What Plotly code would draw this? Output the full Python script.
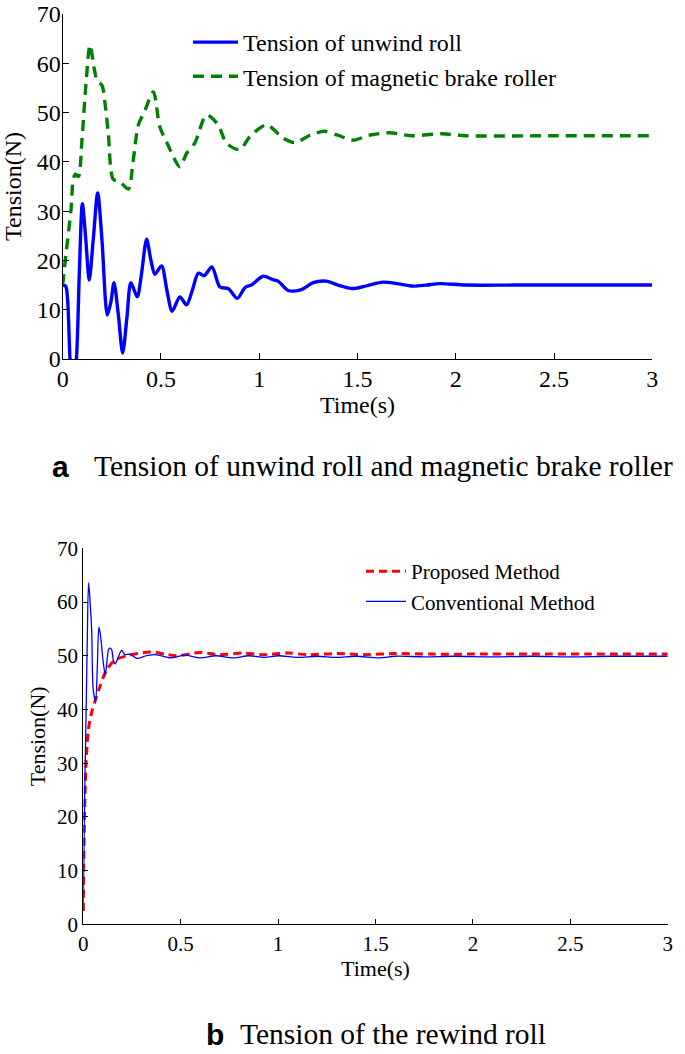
import plotly.graph_objects as go

# ── Data: (a) unwind roll / magnetic brake roller ─────────────────────────────
T_UNWIND = [0, 0.015, 0.025, 0.037, 0.05, 0.07, 0.085, 0.10, 0.118, 0.135, 0.155, 0.178,
            0.20, 0.227, 0.245, 0.261, 0.283, 0.305, 0.327, 0.347, 0.379, 0.40, 0.427,
            0.449, 0.469, 0.503, 0.53, 0.557, 0.596, 0.63, 0.66, 0.69, 0.72, 0.759,
            0.80, 0.842, 0.888, 0.93, 0.96, 1.02, 1.07, 1.096, 1.147, 1.215, 1.274,
            1.342, 1.40, 1.477, 1.55, 1.63, 1.70, 1.78, 1.85, 1.92, 2.05, 2.3, 2.6, 3.0]
Y_UNWIND = [15, 14.8, 12, 0, -8, 0, 18, 31.5, 24, 16, 24, 33.7,
            24, 8.9, 11.5, 15.5, 9, 1.2, 8.5, 15.5, 12.6, 17, 24.3,
            20, 17.2, 18.9, 14, 9.7, 12.6, 11.0, 14, 17.4, 16.9, 18.7,
            14.6, 14.3, 12.3, 14.6, 15.0, 16.8, 16.1, 15.8, 13.9, 14.1, 15.5,
            15.8, 15.0, 14.3, 14.9, 15.6, 15.3, 14.8, 15.0, 15.3, 15.0, 15.0, 15.0, 15.0]

T_BRAKE = [0, 0.017, 0.042, 0.054, 0.065, 0.08, 0.098, 0.116, 0.139, 0.16, 0.175, 0.20,
           0.215, 0.232, 0.257, 0.29, 0.334, 0.359, 0.385, 0.419, 0.461, 0.494, 0.528,
           0.596, 0.63, 0.672, 0.732, 0.791, 0.833, 0.901, 0.952, 1.037, 1.122, 1.181,
           1.258, 1.333, 1.40, 1.477, 1.56, 1.664, 1.774, 1.93, 2.05, 2.5, 3.0]
Y_BRAKE = [15, 21.4, 30.2, 36.5, 37.5, 37, 44.4, 54.6, 63.7, 59, 56.5, 55.5,
           52, 45.8, 36.5, 36, 34.5, 40.4, 47.5, 50.5, 54.2, 47.1, 44.1,
           39.0, 41.7, 43.8, 49.5, 47.5, 43.8, 42.5, 45.1, 47.5, 44.8, 43.9,
           45.4, 46.2, 45.4, 44.4, 45.4, 45.9, 45.3, 45.7, 45.3, 45.3, 45.3]

# ── Data: (b) rewind roll ─────────────────────────────────────────────────────
T_CONV = [0, 0.005, 0.014, 0.02, 0.027, 0.035, 0.043, 0.051, 0.063, 0.072, 0.080, 0.089,
          0.096, 0.103, 0.113, 0.123, 0.130, 0.137, 0.146, 0.154, 0.164, 0.18, 0.197,
          0.214, 0.24, 0.274, 0.325, 0.37, 0.45, 0.52, 0.6, 0.68, 0.77, 0.85, 0.93,
          1.0, 1.1, 1.2, 1.3, 1.4, 1.52, 1.6, 1.75, 1.9, 2.1, 2.3, 2.5, 2.7, 3.0]
Y_CONV = [2.5, 19, 38.7, 52, 63.6, 60, 54.8, 43.6, 41.5, 48, 55.3, 53.6,
          51, 48.6, 46.4, 49.5, 51.2, 51.4, 51.1, 49.2, 48.5, 49.8, 51.0,
          50.2, 50.3, 49.5, 50.0, 50.2, 49.6, 50.1, 49.6, 50.0, 49.6, 50.0, 49.7,
          50.0, 49.7, 49.9, 49.7, 49.9, 49.6, 49.9, 49.8, 49.9, 49.8, 49.9, 49.8, 49.9, 49.9]

T_PROP = [0, 0.005, 0.014, 0.026, 0.04, 0.06, 0.086, 0.12, 0.163, 0.223, 0.28, 0.343,
          0.42, 0.48, 0.6, 0.7, 0.82, 0.92, 1.05, 1.15, 1.3, 1.45, 1.6, 1.8, 2.0, 2.3, 2.6, 3.0]
Y_PROP = [2.5, 17.6, 30, 36.2, 39, 41.5, 44.3, 47.4, 49.2, 50.0, 50.4, 50.7,
          50.3, 50.0, 50.6, 50.2, 50.5, 50.2, 50.5, 50.2, 50.4, 50.2, 50.4, 50.3, 50.3, 50.3, 50.3, 50.3]

X_TICKS = [0, 0.5, 1, 1.5, 2, 2.5, 3]
X_TICK_TEXT = ["0", "0.5", "1", "1.5", "2", "2.5", "3"]
Y_TICKS = [0, 10, 20, 30, 40, 50, 60, 70]

W, H = 685, 1054
SERIF = "Liberation Serif"


def px_x(p):
    return p / W


def px_y(p):
    return 1 - p / H


fig = go.Figure()

fig.add_trace(go.Scatter(x=T_UNWIND, y=Y_UNWIND, mode="lines", name="Tension of unwind roll",
                         line=dict(color="#0000FF", width=3.4, shape="spline", smoothing=0.8),
                         xaxis="x", yaxis="y", legend="legend"))
fig.add_trace(go.Scatter(x=T_BRAKE, y=Y_BRAKE, mode="lines", name="Tension of magnetic brake roller",
                         line=dict(color="#008000", width=3.4, dash="11px,7px", shape="spline", smoothing=0.8),
                         xaxis="x", yaxis="y", legend="legend"))
fig.add_trace(go.Scatter(x=T_PROP, y=Y_PROP, mode="lines", name="Proposed Method",
                         line=dict(color="#FF0000", width=3, dash="8px,5px", shape="spline", smoothing=0.8),
                         xaxis="x2", yaxis="y2", legend="legend2"))
fig.add_trace(go.Scatter(x=T_CONV, y=Y_CONV, mode="lines", name="Conventional Method",
                         line=dict(color="#0000FF", width=1.3, shape="spline", smoothing=0.8),
                         xaxis="x2", yaxis="y2", legend="legend2"))

axis_common = dict(showline=True, linecolor="black", linewidth=1.3, ticks="inside",
                   tickcolor="black", showgrid=False, zeroline=False, automargin=False,
                   mirror=False)

fig.update_layout(
    width=W, height=H,
    margin=dict(l=0, r=0, t=0, b=0),
    paper_bgcolor="white", plot_bgcolor="white",
    font=dict(family=SERIF, color="black"),
    xaxis=dict(domain=[px_x(62.7), px_x(652.3)], range=[0, 3], anchor="y",
               tickvals=X_TICKS, ticktext=X_TICK_TEXT, ticklen=6, tickfont=dict(size=24),
               ticklabelstandoff=-2,
               title=dict(text="Time(s)", font=dict(size=24), standoff=2), **axis_common),
    yaxis=dict(domain=[px_y(359), px_y(14)], range=[0, 70], anchor="x",
               tickvals=Y_TICKS, ticklen=6, tickfont=dict(size=24), ticklabelstandoff=-4,
               title=dict(text="Tension(N)", font=dict(size=24), standoff=12), **axis_common),
    xaxis2=dict(domain=[px_x(83.3), px_x(667.7)], range=[0, 3], anchor="y2",
                tickvals=X_TICKS, ticktext=X_TICK_TEXT, ticklen=5, tickfont=dict(size=21),
                title=dict(text="Time(s)", font=dict(size=22), standoff=2), **axis_common),
    yaxis2=dict(domain=[px_y(924.3), px_y(548.3)], range=[0, 70], anchor="x2",
                tickvals=Y_TICKS, ticklen=5, tickfont=dict(size=21),
                title=dict(text="Tension(N)", font=dict(size=22), standoff=5), **axis_common),
    legend=dict(x=px_x(188), y=px_y(20), xanchor="left", yanchor="top",
                bgcolor="rgba(0,0,0,0)", font=dict(size=24), itemwidth=45,
                tracegroupgap=0),
    legend2=dict(x=px_x(361), y=px_y(551), xanchor="left", yanchor="top",
                 bgcolor="rgba(0,0,0,0)", font=dict(size=21), itemwidth=40,
                 tracegroupgap=0),
    showlegend=True,
)

# Captions
fig.add_annotation(text="<b>a</b>", x=px_x(60), y=px_y(466), xref="paper", yref="paper",
                   xanchor="center", yanchor="middle", showarrow=False,
                   font=dict(family="Liberation Sans", size=30, color="black"))
fig.add_annotation(text="Tension of unwind roll and magnetic brake roller", x=px_x(92), y=px_y(466),
                   xref="paper", yref="paper", xanchor="left", yanchor="middle", showarrow=False,
                   font=dict(family=SERIF, size=29.5, color="black"))
fig.add_annotation(text="<b>b</b>", x=px_x(215), y=px_y(1034), xref="paper", yref="paper",
                   xanchor="center", yanchor="middle", showarrow=False,
                   font=dict(family="Liberation Sans", size=30, color="black"))
fig.add_annotation(text="Tension of the rewind roll", x=px_x(238), y=px_y(1034),
                   xref="paper", yref="paper", xanchor="left", yanchor="middle", showarrow=False,
                   font=dict(family=SERIF, size=29.5, color="black"))

fig.write_html("out.html", config={"displayModeBar": False})

# drop the browser's default 8px body margin so the figure fills the window exactly
with open("out.html", encoding="utf-8") as f:
    html = f.read()
html = html.replace("<head>", "<head><style>html,body{margin:0;padding:0;overflow:hidden}</style>", 1)
with open("out.html", "w", encoding="utf-8") as f:
    f.write(html)
